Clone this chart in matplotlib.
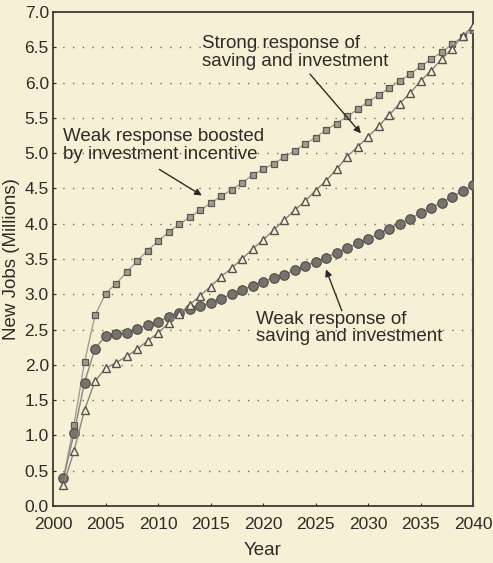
import matplotlib.pyplot as plt
import numpy as np

years = np.arange(2001, 2041)

# Weak response boosted by investment incentive (squares)
boosted = [0.40, 1.15, 2.04, 2.70, 3.01, 3.15, 3.31, 3.47, 3.62, 3.75,
           3.88, 3.99, 4.09, 4.19, 4.29, 4.39, 4.48, 4.58, 4.69, 4.77,
           4.85, 4.94, 5.03, 5.13, 5.22, 5.33, 5.42, 5.52, 5.62, 5.73,
           5.82, 5.92, 6.02, 6.12, 6.23, 6.33, 6.43, 6.54, 6.65, 6.75]

# Strong response of saving and investment (triangles)
strong = [0.30, 0.78, 1.36, 1.77, 1.95, 2.03, 2.12, 2.22, 2.34, 2.45,
          2.59, 2.72, 2.85, 2.98, 3.11, 3.25, 3.37, 3.50, 3.64, 3.77,
          3.91, 4.05, 4.19, 4.32, 4.47, 4.61, 4.77, 4.95, 5.09, 5.23,
          5.38, 5.54, 5.70, 5.85, 6.02, 6.17, 6.33, 6.48, 6.66, 6.80]

# Weak response of saving and investment (circles)
weak = [0.39, 1.03, 1.75, 2.23, 2.41, 2.44, 2.45, 2.51, 2.56, 2.61,
        2.68, 2.74, 2.79, 2.83, 2.88, 2.94, 3.00, 3.06, 3.12, 3.18,
        3.23, 3.28, 3.34, 3.40, 3.46, 3.52, 3.59, 3.65, 3.72, 3.78,
        3.86, 3.93, 4.00, 4.07, 4.15, 4.22, 4.30, 4.38, 4.46, 4.55]

bg = "#f6f1d6"
ink = "#2e2b27"
plt.rcParams['font.family'] = ['Liberation Sans', 'DejaVu Sans']

fig = plt.figure(figsize=(4.93, 5.63), dpi=100, facecolor=bg)
ax = fig.add_axes([0.1075, 0.1012, 0.852, 0.8775], facecolor=bg)

ax.plot(years, boosted, color="#a29e92", lw=1.0, marker="s", ms=4.2,
        mfc="#a29c8e", mec="#5a5650", mew=0.9, zorder=3)
ax.plot(years, weak, color="#8a867e", lw=1.0, marker="o", ms=6.8,
        mfc="#76726c", mec="#55514c", mew=0.9, zorder=4)
ax.plot(years, strong, color="#8a867e", lw=1.0, marker="^", ms=6.2,
        mfc=bg, mec="#55514c", mew=1.0, zorder=5)

ax.set_xlim(2000, 2040)
ax.set_ylim(0, 7)
ax.set_xticks(np.arange(2000, 2041, 5))
yt = np.arange(0, 7.01, 0.5)
ax.set_yticks(yt)
ax.set_yticklabels([f"{v:.1f}" for v in yt])
for v in yt[1:-1]:
    ax.axhline(v, color="#6e6a62", lw=1.0, ls=(0, (1, 6)), zorder=1)

ax.tick_params(axis="both", labelsize=12.5, colors=ink, length=2,
               direction="in")
ax.tick_params(axis="x", pad=8)
ax.tick_params(axis="y", pad=3)
for s in ax.spines.values():
    s.set_color("#3e3b36")
    s.set_linewidth(1.3)

ax.set_xlabel("Year", fontsize=13.5, color=ink, labelpad=7)
ax.set_ylabel("New Jobs (Millions)", fontsize=13.5, color=ink, labelpad=3)

txt = dict(fontsize=13.5, color=ink, ha="left", va="center", linespacing=1.05)
arr = dict(arrowstyle="-|>", color=ink, lw=1.0, mutation_scale=10)

ax.text(2014.2, 6.43, "Strong response of\nsaving and investment", **txt)
ax.annotate("", xy=(2029.5, 5.25), xytext=(2024.3, 6.15), arrowprops=arr)

ax.text(2000.95, 5.11, "Weak response boosted\nby investment incentive", **txt)
ax.annotate("", xy=(2014.4, 4.38), xytext=(2009.9, 4.79), arrowprops=arr)

ax.text(2019.3, 2.52, "Weak response of\nsaving and investment", **txt)
ax.annotate("", xy=(2025.9, 3.39), xytext=(2027.6, 2.73), arrowprops=arr)

fig.savefig("out.png", dpi=100, facecolor=bg)
